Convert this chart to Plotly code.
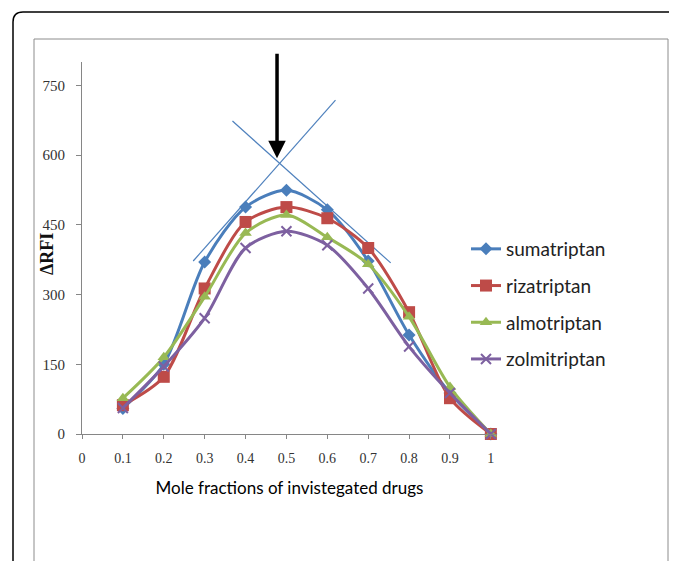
import plotly.graph_objects as go

# ---- data ----
mole_fraction = [0.1, 0.2, 0.3, 0.4, 0.5, 0.6, 0.7, 0.8, 0.9, 1.0]
sumatriptan = [55, 150, 370, 488, 524, 482, 372, 213, 88, 0]
rizatriptan = [62, 123, 313, 456, 488, 464, 400, 262, 77, 0]
almotriptan = [77, 165, 295, 432, 471, 423, 365, 252, 101, 0]
zolmitriptan = [56, 145, 249, 400, 436, 406, 313, 188, 88, 0]

series_names = ["sumatriptan", "rizatriptan", "almotriptan", "zolmitriptan"]
x_tick_vals = [0, 0.1, 0.2, 0.3, 0.4, 0.5, 0.6, 0.7, 0.8, 0.9, 1.0]
x_tick_text = ["0", "0.1", "0.2", "0.3", "0.4", "0.5", "0.6", "0.7", "0.8", "0.9", "1"]
y_tick_vals = [0, 150, 300, 450, 600, 750]
x_title = "Mole fractions of invistegated drugs"
y_title = "ΔRFI"

# tangent lines (extrapolated)
tangent_rise_x = [0.272, 0.620]
tangent_rise_y = [372, 718]
tangent_fall_x = [0.368, 0.755]
tangent_fall_y = [673, 368]

# arrow marking intersection
arrow_x = 0.477
arrow_tip_y = 593
arrow_tail_y = 821

colors = ["#4A7EBB", "#BE4B48", "#98B954", "#7D60A0"]
symbols = ["diamond", "square", "triangle-up", "x-thin"]
sizes = [10, 12, 11, 10]

fig = go.Figure()

for tx, ty in [(tangent_rise_x, tangent_rise_y), (tangent_fall_x, tangent_fall_y)]:
    fig.add_trace(go.Scatter(x=tx, y=ty, mode="lines",
                             line=dict(color="#4F81BD", width=1.2),
                             showlegend=False, hoverinfo="skip", cliponaxis=False))

for name, vals, c, s, sz in zip(series_names,
                               [sumatriptan, rizatriptan, almotriptan, zolmitriptan],
                               colors, symbols, sizes):
    marker = dict(symbol=s, size=sz, color=c)
    if s == "x-thin":
        marker["line"] = dict(color=c, width=2)
    fig.add_trace(go.Scatter(x=mole_fraction, y=vals, name=name, legendgroup=name,
                             mode="lines+markers",
                             line=dict(color=c, width=3, shape="spline", smoothing=0.8),
                             marker=marker, cliponaxis=False))

fig.add_annotation(x=arrow_x, y=arrow_tip_y, ax=arrow_x, ay=arrow_tail_y,
                   xref="x", yref="y", axref="x", ayref="y",
                   showarrow=True, arrowhead=2, arrowsize=1, arrowwidth=3.5,
                   arrowcolor="black", text="")

# page offset (body margin) compensation
OFF = 8
L, R, T, B = 82 - OFF, 180, 62 - OFF, 127
W, H = 677 - OFF, 561 - OFF
pw, ph = W - L - R, H - T - B


def px(xp):
    return (xp - OFF - L) / pw


def py(yp):
    return (H - B - (yp - OFF)) / ph


# y-axis title as rotated annotation
fig.add_annotation(x=px(47), y=py(254), xref="paper", yref="paper",
                   text=f"<b>{y_title}</b>", showarrow=False, textangle=-90,
                   xanchor="center", yanchor="middle",
                   font=dict(family="Liberation Serif", size=18, color="#111"))

# outer rounded black frame
r = 10
x0, y0 = 13, 12
x1, y1 = 720, 620
path = (f"M {px(x0)},{py(y1)} L {px(x0)},{py(y0 + r)} "
        f"Q {px(x0)},{py(y0)} {px(x0 + r)},{py(y0)} L {px(x1)},{py(y0)}")
fig.add_shape(type="path", path=path, xref="paper", yref="paper",
              line=dict(color="black", width=1.5), layer="below")
# inner gray chart border
fig.add_shape(type="rect", xref="paper", yref="paper",
              x0=px(34), x1=px(668), y0=py(620), y1=py(39),
              line=dict(color="#8C8C8C", width=1), layer="below")

fig.update_layout(
    width=W, height=H,
    margin=dict(l=L, r=R, t=T, b=B),
    paper_bgcolor="white", plot_bgcolor="white",
    showlegend=True,
    legend=dict(x=px(466), y=py(230), xanchor="left", yanchor="top",
                font=dict(family="Lato, Liberation Sans", size=19, color="#222"),
                bgcolor="rgba(0,0,0,0)", tracegroupgap=9, itemwidth=30),
    xaxis=dict(range=[0, 1.015], tickvals=x_tick_vals, ticktext=x_tick_text,
               showgrid=False, zeroline=False, showline=True, linecolor="#868686",
               linewidth=1, ticks="outside", ticklen=4, tickcolor="#868686",
               ticklabelstandoff=7,
               tickfont=dict(family="Liberation Serif", size=14, color="#333"),
               title=dict(text=x_title,
                          font=dict(family="Lato, Liberation Sans", size=17, color="#000"),
                          standoff=17)),
    yaxis=dict(range=[0, 800], tickvals=y_tick_vals,
               showgrid=False, zeroline=False, showline=True, linecolor="#868686",
               linewidth=1, ticks="outside", ticklen=5, tickcolor="#868686",
               ticklabelstandoff=8,
               tickfont=dict(family="Liberation Serif", size=15, color="#333")),
)

fig.write_html("out.html")
